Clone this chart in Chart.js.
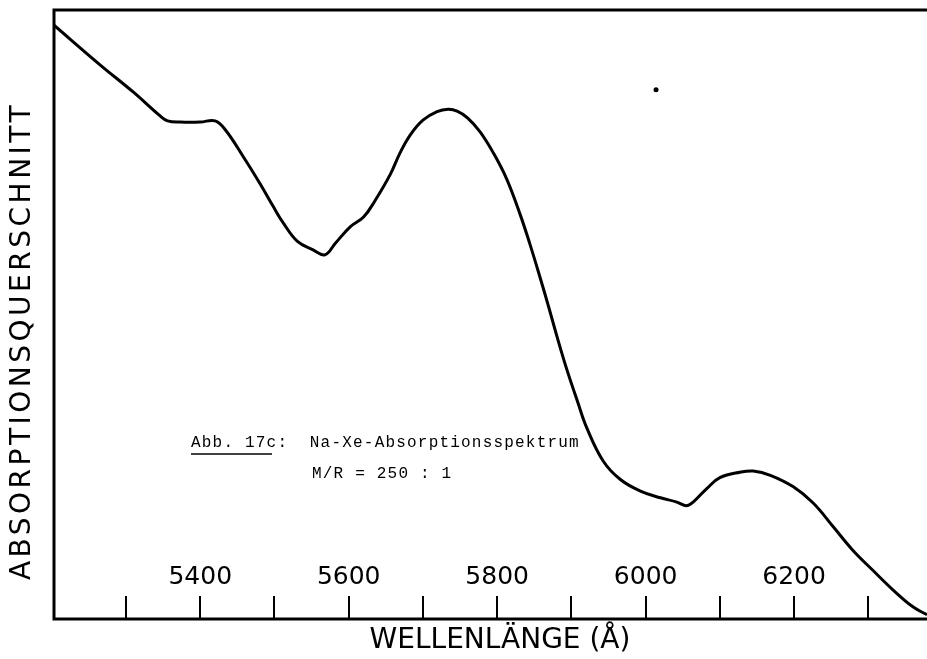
<!DOCTYPE html>
<html>
<head>
<meta charset="utf-8">
<script src="https://cdn.jsdelivr.net/npm/chart.js@4"></script>
<style>
  html, body { margin: 0; padding: 0; background: #fff; }
  canvas { display: block; }
</style>
</head>
<body>
<canvas id="chart" width="927" height="659"></canvas>
<script>
/* curve: wavelength (Å) and relative cross-section (0..100) */
const wavelength = [
  5203, 5265, 5310, 5346, 5356, 5373, 5400, 5420, 5434, 5458, 5481, 5498, 5512, 5531, 5552,
  5568, 5582, 5602, 5620, 5636, 5656, 5669, 5683, 5700, 5719, 5734, 5746, 5760, 5777, 5795,
  5813, 5831, 5844, 5858, 5869, 5881, 5894, 5908, 5921, 5943, 5966, 5993, 6020, 6042, 6055,
  6064, 6083, 6100, 6127, 6145, 6168, 6199, 6226, 6253, 6279, 6306, 6333, 6360, 6379
];
const crossSection = [
  97.5, 91.0, 86.5, 82.6, 81.8, 81.6, 81.6, 81.8, 80.3, 75.9, 71.4, 67.8, 65.0, 62.0, 60.6,
  59.8, 61.7, 64.4, 66.0, 68.8, 73.0, 76.5, 79.5, 81.9, 83.3, 83.7, 83.4, 82.3, 80.0, 76.5,
  72.2, 66.4, 61.6, 56.0, 51.4, 46.2, 40.9, 35.8, 31.3, 25.9, 22.9, 21.0, 19.9, 19.2, 18.6,
  19.2, 21.5, 23.2, 24.1, 24.3, 23.6, 21.7, 19.0, 15.1, 11.3, 8.0, 4.8, 2.0, 0.7
];
/* the stray speck on the scan */
const speck = [{ x: 6014, y: 86.9 }];

const xMin = 5203, xMax = 6379;
const tickValues = [5300, 5400, 5500, 5600, 5700, 5800, 5900, 6000, 6100, 6200, 6300];
const tickLabels = ["5400", "5600", "5800", "6000", "6200"];

const xTitle = "WELLENLÄNGE (Å)";
const yTitle = "ABSORPTIONSQUERSCHNITT";
const noteLine1 = "Abb. 17c:  Na-Xe-Absorptionsspektrum";
const noteLine2 = "M/R = 250 : 1";

/* frame, inward ticks, labels and the caption */
const decor = {
  id: "decor",
  afterDraw(c) {
    const ctx = c.ctx;
    const a = c.chartArea;
    const xs = c.scales.x;
    ctx.save();
    ctx.strokeStyle = "#000";
    ctx.fillStyle = "#000";

    // frame: left, top, bottom (no right edge on the scan)
    ctx.lineWidth = 3;
    ctx.beginPath();
    ctx.moveTo(a.right, a.top);
    ctx.lineTo(a.left, a.top);
    ctx.lineTo(a.left, a.bottom);
    ctx.lineTo(a.right, a.bottom);
    ctx.stroke();

    // ticks pointing up into the plot
    ctx.lineWidth = 2;
    tickValues.forEach(v => {
      const px = Math.round(xs.getPixelForValue(v));
      ctx.beginPath();
      ctx.moveTo(px, a.bottom);
      ctx.lineTo(px, a.bottom - 23);
      ctx.stroke();
    });

    ctx.font = "25px 'DejaVu Sans'";
    ctx.textAlign = "center";
    ctx.textBaseline = "middle";
    tickLabels.forEach(t => {
      ctx.fillText(t, xs.getPixelForValue(Number(t)), a.bottom - 42);
    });

    // axis titles
    ctx.font = "28px 'DejaVu Sans'";
    ctx.fillText(xTitle, 500, 641);
    ctx.save();
    ctx.translate(23, 341);
    ctx.rotate(-Math.PI / 2);
    ctx.letterSpacing = "3.5px";
    ctx.fillText(yTitle, 0, 0);
    ctx.restore();

    // typewritten caption
    ctx.font = "16px 'Liberation Mono'";
    ctx.letterSpacing = "1.2px";
    ctx.textAlign = "left";
    ctx.fillText(noteLine1, 191, 443);
    ctx.fillText(noteLine2, 312, 474);
    ctx.lineWidth = 1.5;
    ctx.beginPath();
    ctx.moveTo(191, 454);
    ctx.lineTo(272, 454);
    ctx.stroke();

    ctx.restore();
  }
};

new Chart(document.getElementById("chart"), {
  type: "line",
  data: {
    labels: wavelength,
    datasets: [
      {
        data: wavelength.map((w, i) => ({ x: w, y: crossSection[i] })),
        borderColor: "#000",
        borderWidth: 3,
        pointRadius: 0,
        fill: false,
        tension: 0.4
      },
      {
        type: "scatter",
        data: speck,
        pointRadius: 2.5,
        backgroundColor: "#000",
        borderWidth: 0
      }
    ]
  },
  options: {
    responsive: false,
    animation: false,
    events: [],
    layout: { autoPadding: false, padding: { left: 54, top: 10, right: 0, bottom: 40 } },
    plugins: { legend: { display: false }, tooltip: { enabled: false } },
    scales: {
      x: { type: "linear", min: xMin, max: xMax, display: false },
      y: { min: 0, max: 100, display: false }
    }
  },
  plugins: [decor]
});
</script>
</body>
</html>
